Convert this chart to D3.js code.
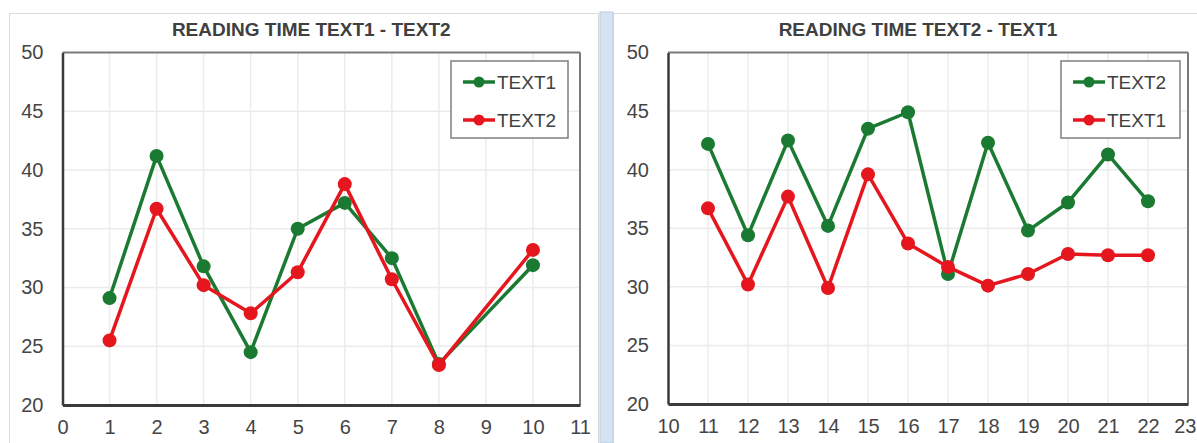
<!DOCTYPE html>
<html><head><meta charset="utf-8">
<script src="https://cdn.jsdelivr.net/npm/d3@7"></script>
<style>html,body{margin:0;padding:0;background:#fff;}svg{display:block;}</style>
</head><body>
<svg id="chart" width="1197" height="443"></svg>
<script>
// ---- data ----
const leftTitle = "READING TIME TEXT1 - TEXT2";
const rightTitle = "READING TIME TEXT2 - TEXT1";
const leftX = [1, 2, 3, 4, 5, 6, 7, 8, 10];
const leftText1 = [29.1, 41.2, 31.8, 24.5, 35.0, 37.2, 32.5, 23.5, 31.9];
const leftText2 = [25.5, 36.7, 30.2, 27.8, 31.3, 38.8, 30.7, 23.4, 33.2];
const rightX = [11, 12, 13, 14, 15, 16, 17, 18, 19, 20, 21, 22];
const rightText2 = [42.2, 34.4, 42.5, 35.2, 43.5, 44.9, 31.1, 42.3, 34.8, 37.2, 41.3, 37.3];
const rightText1 = [36.7, 30.2, 37.7, 29.9, 39.6, 33.7, 31.7, 30.1, 31.1, 32.8, 32.7, 32.7];
const leftXTicks = [0, 1, 2, 3, 4, 5, 6, 7, 8, 9, 10, 11];
const rightXTicks = [10, 11, 12, 13, 14, 15, 16, 17, 18, 19, 20, 21, 22, 23];
const yTicks = [20, 25, 30, 35, 40, 45, 50];
const leftLegend = ["TEXT1", "TEXT2"];
const rightLegend = ["TEXT2", "TEXT1"];

const GREEN = "#1b7a32", RED = "#e5161d";
const FONT = "'Liberation Sans', Arial, sans-serif";
const svg = d3.select("#chart");

// chart-area frames and splitter
svg.append("rect").attr("x", 9.5).attr("y", 13.5).attr("width", 589).attr("height", 440)
  .attr("fill", "#fff").attr("stroke", "#dadada").attr("stroke-width", 1);
svg.append("rect").attr("x", 613.5).attr("y", 13.5).attr("width", 600).attr("height", 440)
  .attr("fill", "#fff").attr("stroke", "#dadada").attr("stroke-width", 1);
svg.append("rect").attr("x", 600).attr("y", 12).attr("width", 13).attr("height", 431)
  .attr("fill", "#d5e3f1").attr("stroke", "#b7cde4").attr("stroke-width", 1);

function panel(cfg) {
  const x = d3.scaleLinear().domain(cfg.xDomain).range([cfg.x0, cfg.x1]);
  const y = d3.scaleLinear().domain([20, 50]).range([cfg.y1, cfg.y0]);
  const g = svg.append("g");

  // gridlines
  g.append("g").selectAll("line").data(cfg.xTicks.slice(1, -1)).join("line")
    .attr("x1", d => x(d)).attr("x2", d => x(d)).attr("y1", cfg.y0).attr("y2", cfg.y1)
    .attr("stroke", "#ececec").attr("stroke-width", 1.5);
  g.append("g").selectAll("line").data(yTicks.slice(1, -1)).join("line")
    .attr("x1", cfg.x0).attr("x2", cfg.x1).attr("y1", d => y(d)).attr("y2", d => y(d))
    .attr("stroke", "#ebebeb").attr("stroke-width", 1.5);

  // plot border: top & right lighter, left & bottom axis darker
  g.append("line").attr("x1", cfg.x0).attr("x2", cfg.x1).attr("y1", cfg.y0).attr("y2", cfg.y0)
    .attr("stroke", "#7a7a7a").attr("stroke-width", 2);
  g.append("line").attr("x1", cfg.x1).attr("x2", cfg.x1).attr("y1", cfg.y0).attr("y2", cfg.y1)
    .attr("stroke", "#7a7a7a").attr("stroke-width", 2);

  // axes
  const yAxis = d3.axisLeft(y).tickValues(yTicks).tickSize(0).tickPadding(19);
  const ya = g.append("g").attr("transform", `translate(${cfg.x0},0)`).call(yAxis);
  ya.select(".domain").attr("stroke", "#3a3a3a").attr("stroke-width", 2.5);
  ya.selectAll("text").attr("font-family", FONT).attr("font-size", 20).attr("fill", "#454545");

  const xAxis = d3.axisBottom(x).tickValues(cfg.xTicks).tickSize(0).tickPadding(15);
  const xa = g.append("g").attr("transform", `translate(0,${cfg.y1})`).call(xAxis);
  xa.select(".domain").attr("stroke", "#3a3a3a").attr("stroke-width", 3);
  xa.selectAll("text").attr("font-family", FONT).attr("font-size", 20).attr("fill", "#454545")
    .attr("dy", "0.71em");
  // keep the last label inside the window
  xa.selectAll("text").filter(d => x(d) + 11 > 1196).attr("text-anchor", "end").attr("dx", 1196 - x(cfg.xTicks[cfg.xTicks.length - 1]));

  // title
  g.append("text").attr("x", (cfg.x0 + cfg.x1) / 2 - 10).attr("y", 36)
    .attr("text-anchor", "middle").attr("font-family", FONT).attr("font-weight", "bold")
    .attr("font-size", 19).attr("fill", "#404040").text(cfg.title);

  // series
  const line = d3.line().x(d => x(d[0])).y(d => y(d[1]));
  cfg.series.forEach(s => {
    const pts = cfg.xs.map((xv, i) => [xv, s.values[i]]);
    g.append("path").datum(pts).attr("d", line).attr("fill", "none")
      .attr("stroke", s.color).attr("stroke-width", 3.5).attr("stroke-linejoin", "round");
    g.append("g").selectAll("circle").data(pts).join("circle")
      .attr("cx", d => x(d[0])).attr("cy", d => y(d[1])).attr("r", 7)
      .attr("fill", s.color);
  });

  // legend
  const lg = g.append("g");
  lg.append("rect").attr("x", cfg.legX).attr("y", 61).attr("width", cfg.legW).attr("height", 77)
    .attr("fill", "#fff").attr("stroke", "#7f7f7f").attr("stroke-width", 1.5);
  cfg.series.forEach((s, i) => {
    const cy = 82 + i * 38;
    lg.append("line").attr("x1", cfg.legX + 12).attr("x2", cfg.legX + 44).attr("y1", cy).attr("y2", cy)
      .attr("stroke", s.color).attr("stroke-width", 3.5);
    lg.append("circle").attr("cx", cfg.legX + 28).attr("cy", cy).attr("r", 5.5).attr("fill", s.color);
    lg.append("text").attr("x", cfg.legX + 46).attr("y", cy + 7).attr("font-family", FONT)
      .attr("font-size", 19).attr("fill", "#404040").text(s.name);
  });
}

panel({
  title: leftTitle, xDomain: [0, 11], xTicks: leftXTicks, xs: leftX,
  x0: 62.5, x1: 580, y0: 52.5, y1: 405, legX: 451, legW: 117,
  series: [{name: leftLegend[0], values: leftText1, color: GREEN},
           {name: leftLegend[1], values: leftText2, color: RED}]
});
panel({
  title: rightTitle, xDomain: [10, 23], xTicks: rightXTicks, xs: rightX,
  x0: 668, x1: 1188, y0: 52.5, y1: 404, legX: 1061, legW: 119,
  series: [{name: rightLegend[0], values: rightText2, color: GREEN},
           {name: rightLegend[1], values: rightText1, color: RED}]
});
</script>
</body></html>
